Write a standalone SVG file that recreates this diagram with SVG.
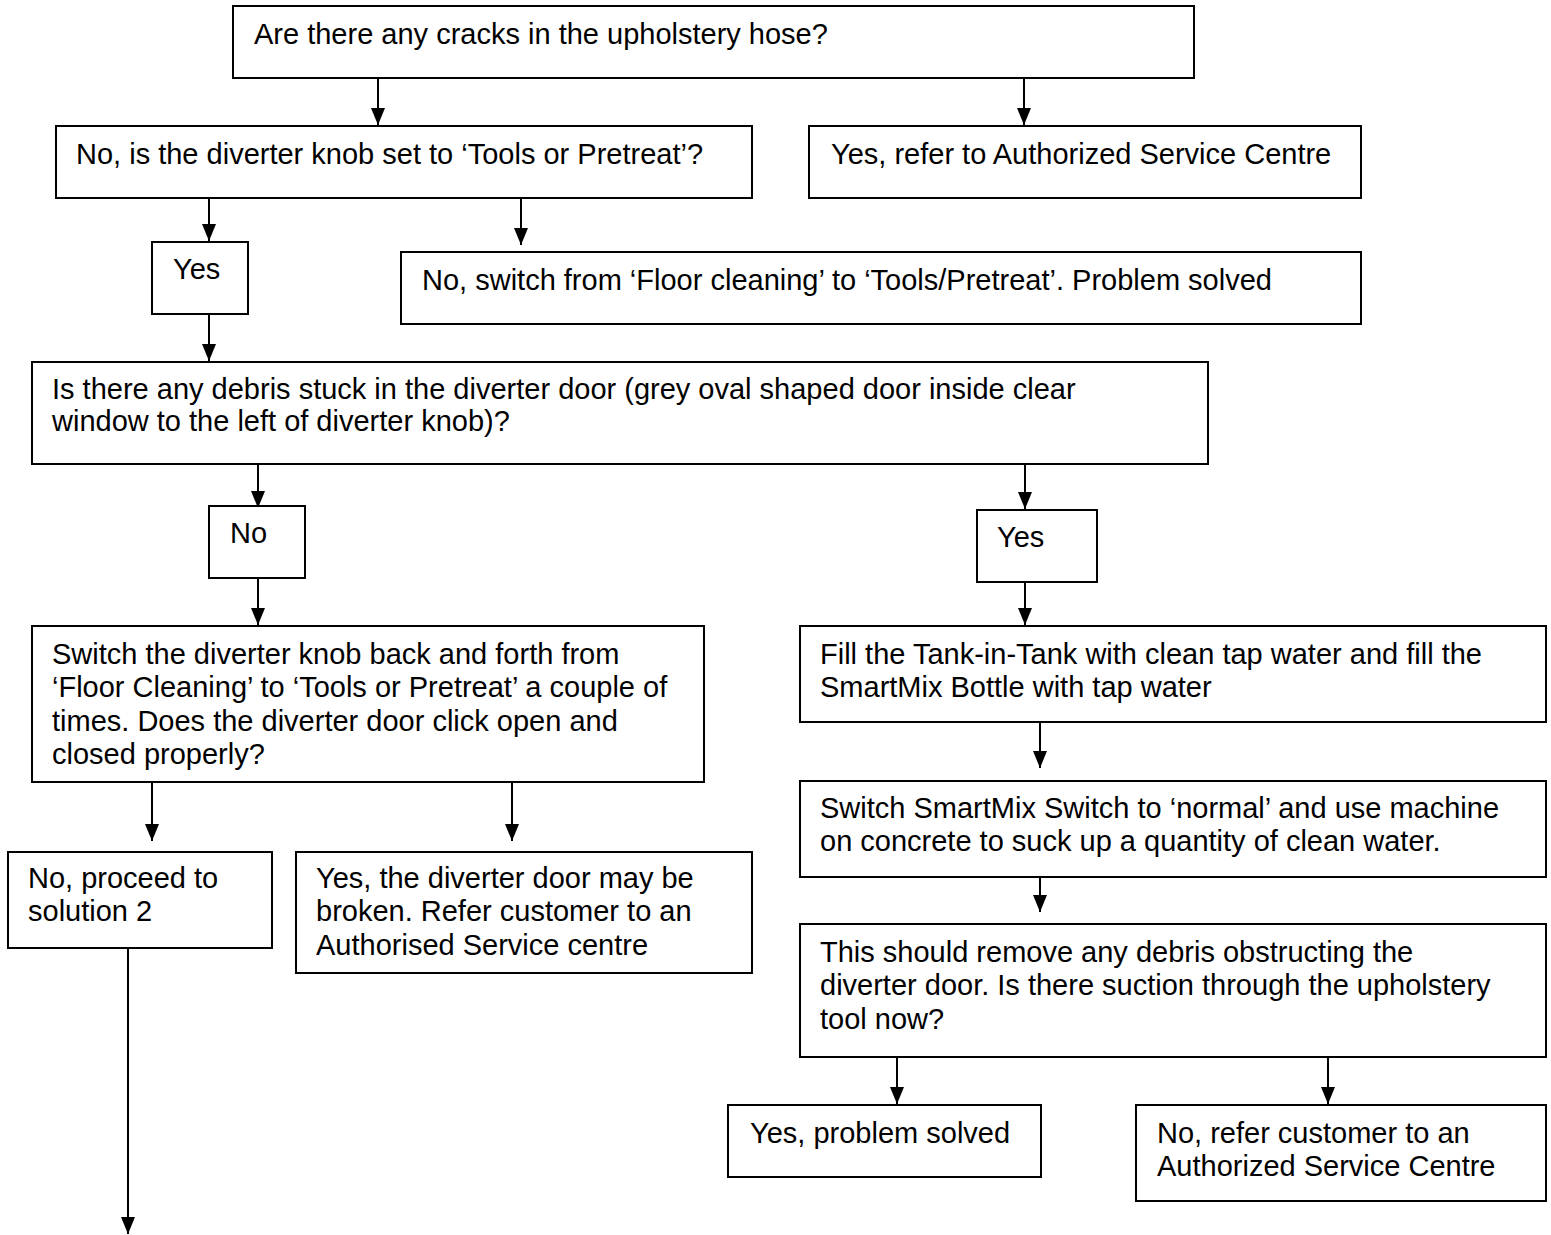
<svg xmlns="http://www.w3.org/2000/svg" width="1551" height="1235" viewBox="0 0 1551 1235">
<style>
.box{fill:#fff;stroke:#000;stroke-width:2}
.t{font-family:"Liberation Sans",Arial,sans-serif;font-size:29px;fill:#000}
.c{stroke:#000;stroke-width:2;fill:none;marker-end:url(#ah)}
</style>
<defs>
<marker id="ah" markerUnits="userSpaceOnUse" viewBox="0 0 17 14" markerWidth="17" markerHeight="14" refX="17" refY="7" orient="auto">
<path d="M0,0 L17,7 L0,14 z" fill="#000"/>
</marker>
</defs>
<rect width="1551" height="1235" fill="#fff"/>
<g id="connectors">
<line class="c" x1="378" y1="78" x2="378" y2="125"/>
<line class="c" x1="1024" y1="78" x2="1024" y2="125"/>
<line class="c" x1="209" y1="198" x2="209" y2="241"/>
<line class="c" x1="521" y1="198" x2="521" y2="245"/>
<line class="c" x1="209" y1="314" x2="209" y2="361"/>
<line class="c" x1="258" y1="464" x2="258" y2="508"/>
<line class="c" x1="1025" y1="464" x2="1025" y2="509"/>
<line class="c" x1="258" y1="578" x2="258" y2="625"/>
<line class="c" x1="1025" y1="582" x2="1025" y2="625"/>
<line class="c" x1="1040" y1="722" x2="1040" y2="768"/>
<line class="c" x1="1040" y1="865" x2="1040" y2="912"/>
<line class="c" x1="152" y1="770" x2="152" y2="841"/>
<line class="c" x1="512" y1="770" x2="512" y2="841"/>
<line class="c" x1="128" y1="948" x2="128" y2="1234"/>
<line class="c" x1="897" y1="1057" x2="897" y2="1104"/>
<line class="c" x1="1328" y1="1057" x2="1328" y2="1104"/>
</g>
<g id="n1"><rect class="box" x="233" y="6" width="961" height="72"/>
<text class="t" x="254" y="44">Are there any cracks in the upholstery hose?</text></g>
<g id="n2"><rect class="box" x="56" y="126" width="696" height="72"/>
<text class="t" x="76" y="164">No, is the diverter knob set to ‘Tools or Pretreat’?</text></g>
<g id="n3"><rect class="box" x="809" y="126" width="552" height="72"/>
<text class="t" x="831" y="164">Yes, refer to Authorized Service Centre</text></g>
<g id="n4"><rect class="box" x="152" y="242" width="96" height="72"/>
<text class="t" x="173" y="279">Yes</text></g>
<g id="n5"><rect class="box" x="401" y="252" width="960" height="72"/>
<text class="t" x="422" y="290">No, switch from ‘Floor cleaning’ to ‘Tools/Pretreat’. Problem solved</text></g>
<g id="n6"><rect class="box" x="32" y="362" width="1176" height="102"/>
<text class="t"><tspan x="52" y="399">Is there any debris stuck in the diverter door (grey oval shaped door inside clear</tspan><tspan x="52" y="431">window to the left of diverter knob)?</tspan></text></g>
<g id="n7"><rect class="box" x="209" y="506" width="96" height="72"/>
<text class="t" x="230" y="543">No</text></g>
<g id="n8"><rect class="box" x="977" y="510" width="120" height="72"/>
<text class="t" x="997" y="547">Yes</text></g>
<g id="n9"><rect class="box" x="32" y="626" width="672" height="156"/>
<text class="t"><tspan x="52" y="664">Switch the diverter knob back and forth from</tspan><tspan x="52" y="697.3">‘Floor Cleaning’ to ‘Tools or Pretreat’ a couple of</tspan><tspan x="52" y="730.6">times. Does the diverter door click open and</tspan><tspan x="52" y="764">closed properly?</tspan></text></g>
<g id="n10"><rect class="box" x="800" y="626" width="746" height="96"/>
<text class="t"><tspan x="820" y="664">Fill the Tank-in-Tank with clean tap water and fill the</tspan><tspan x="820" y="697.3">SmartMix Bottle with tap water</tspan></text></g>
<g id="n11"><rect class="box" x="800" y="781" width="746" height="96"/>
<text class="t"><tspan x="820" y="818">Switch SmartMix Switch to ‘normal’ and use machine</tspan><tspan x="820" y="851.3">on concrete to suck up a quantity of clean water.</tspan></text></g>
<g id="n12"><rect class="box" x="800" y="924" width="746" height="133"/>
<text class="t"><tspan x="820" y="962">This should remove any debris obstructing the</tspan><tspan x="820" y="995.3">diverter door. Is there suction through the upholstery</tspan><tspan x="820" y="1028.6">tool now?</tspan></text></g>
<g id="n13"><rect class="box" x="728" y="1105" width="313" height="72"/>
<text class="t" x="750" y="1143">Yes, problem solved</text></g>
<g id="n14"><rect class="box" x="1136" y="1105" width="410" height="96"/>
<text class="t"><tspan x="1157" y="1143">No, refer customer to an</tspan><tspan x="1157" y="1176.3">Authorized Service Centre</tspan></text></g>
<g id="n15"><rect class="box" x="8" y="852" width="264" height="96"/>
<text class="t"><tspan x="28" y="888">No, proceed to</tspan><tspan x="28" y="921.3">solution 2</tspan></text></g>
<g id="n16"><rect class="box" x="296" y="852" width="456" height="121"/>
<text class="t"><tspan x="316" y="888">Yes, the diverter door may be</tspan><tspan x="316" y="921.3">broken. Refer customer to an</tspan><tspan x="316" y="954.6">Authorised Service centre</tspan></text></g>
</svg>
